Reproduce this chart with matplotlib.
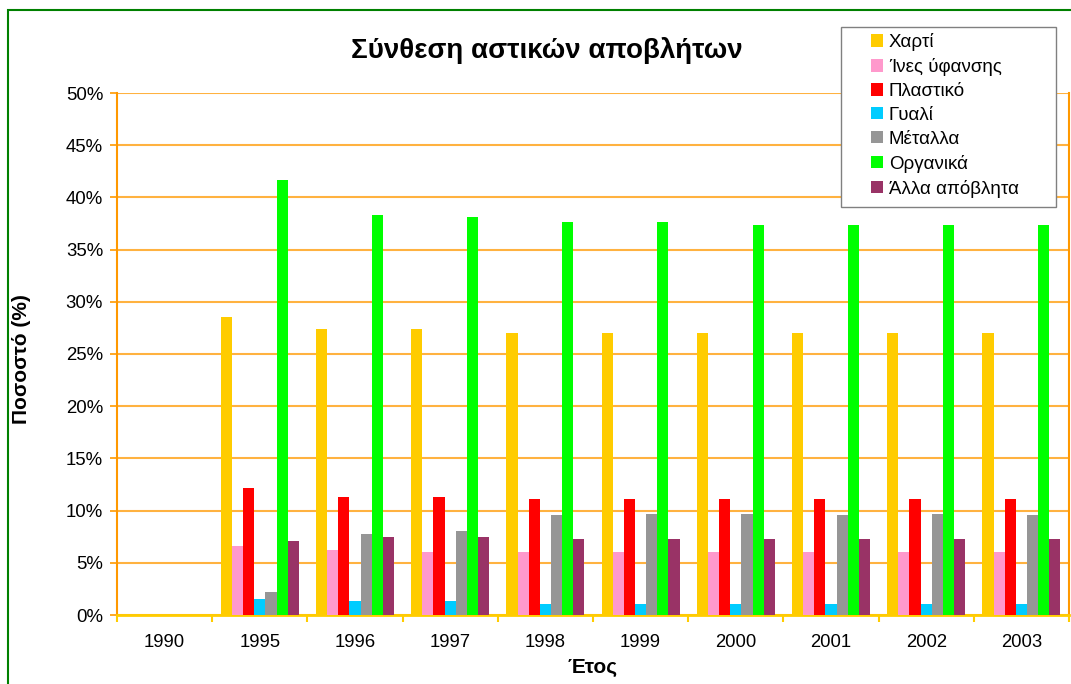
"""Composition of municipal waste, grouped bar chart."""
import numpy as np
import matplotlib
matplotlib.use("Agg")
import matplotlib.pyplot as plt
from matplotlib.patches import Rectangle
from matplotlib.ticker import FuncFormatter, MultipleLocator

plt.rcParams['font.family'] = ['Liberation Sans', 'DejaVu Sans']

years = ['1990', '1995', '1996', '1997', '1998', '1999', '2000', '2001', '2002', '2003']
categories = ['Χαρτί', 'Ίνες ύφανσης', 'Πλαστικό', 'Γυαλί', 'Μέταλλα', 'Οργανικά', 'Άλλα απόβλητα']
colors = ['#FFCC00', '#FF99CC', '#FF0000', '#00CCFF', '#969696', '#00FF00', '#993366']

# percentages per year (1990 has no data)
paper = [np.nan, 28.5, 27.4, 27.4, 27.0, 27.0, 27.0, 27.0, 27.0, 27.0]
textiles = [np.nan, 6.6, 6.2, 6.0, 6.0, 6.0, 6.0, 6.0, 6.0, 6.0]
plastic = [np.nan, 12.2, 11.3, 11.3, 11.1, 11.1, 11.1, 11.1, 11.1, 11.1]
glass = [np.nan, 1.5, 1.3, 1.3, 1.1, 1.1, 1.1, 1.1, 1.1, 1.1]
metals = [np.nan, 2.2, 7.8, 8.0, 9.6, 9.7, 9.7, 9.6, 9.7, 9.6]
organic = [np.nan, 41.7, 38.3, 38.1, 37.6, 37.6, 37.4, 37.4, 37.4, 37.4]
other = [np.nan, 7.1, 7.5, 7.5, 7.3, 7.3, 7.3, 7.3, 7.3, 7.3]
series = [paper, textiles, plastic, glass, metals, organic, other]

W, H = 1071, 684
fig = plt.figure(figsize=(W / 100, H / 100), dpi=100)
ax = fig.add_axes([117 / W, 1 - 615 / H, 952 / W, 522 / H])

x = np.arange(len(years))
bw = 0.117
for i, (name, vals, c) in enumerate(zip(categories, series, colors)):
    ax.bar(x + (i - 3) * bw, vals, bw, color=c, label=name, zorder=3, linewidth=0)

orange = '#FF9900'
ax.set_xlim(-0.5, len(years) - 0.5)
ax.set_ylim(0, 50)
ax.yaxis.set_major_locator(MultipleLocator(5))
ax.yaxis.set_major_formatter(FuncFormatter(lambda v, p: f'{v:.0f}%'))
ax.grid(axis='y', color=orange, linewidth=1.5, alpha=0.75, zorder=0)

ax.set_xticks(x)
ax.set_xticklabels(years)
ax.set_xticks(np.arange(len(years) + 1) - 0.5, minor=True)
ax.tick_params(axis='x', which='major', length=0, pad=14, labelsize=13.3)
ax.tick_params(axis='x', which='minor', length=5, color='#FFCC00', width=1.5)
ax.tick_params(axis='y', length=5, color=orange, width=1.2, labelsize=13.4, pad=5)

for s in ['left', 'right']:
    ax.spines[s].set_color(orange)
    ax.spines[s].set_linewidth(1.5)
ax.spines['top'].set_visible(False)
ax.spines['bottom'].set_color('#FFCC00')
ax.spines['bottom'].set_linewidth(2)

ax.set_ylabel('Ποσοστό (%)', fontsize=15, fontweight='bold')
ax.yaxis.set_label_coords(-0.0903, 0.49)
ax.set_xlabel('Έτος', fontsize=15, fontweight='bold')
ax.xaxis.set_label_coords(0.5, -0.082)

fig.text(547 / W, 1 - 51 / H, 'Σύνθεση αστικών αποβλήτων', ha='center', va='center',
         fontsize=20, fontweight='bold')

# legend frame drawn separately so the entries can sit with Excel's wide left margin
fig.patches.append(Rectangle((841 / W, 1 - 207 / H), 215 / W, 180 / H, transform=fig.transFigure,
                             facecolor='white', edgecolor='#808080', linewidth=1, zorder=4))
fig.legend(loc='upper left', bbox_to_anchor=(871 / W, 1 - 33 / H), fontsize=13.5,
           frameon=False, handlelength=0.65, handleheight=0.65, handletextpad=0.3,
           labelspacing=0.37, borderpad=0, borderaxespad=0)

# green chart-area border (cropped on right/bottom)
fig.patches.append(Rectangle((8 / W, -0.1), 1.2, 1.1 - 10 / H, transform=fig.transFigure,
                             fill=False, edgecolor='#008000', linewidth=1.5))

fig.savefig('out.png', dpi=100)
